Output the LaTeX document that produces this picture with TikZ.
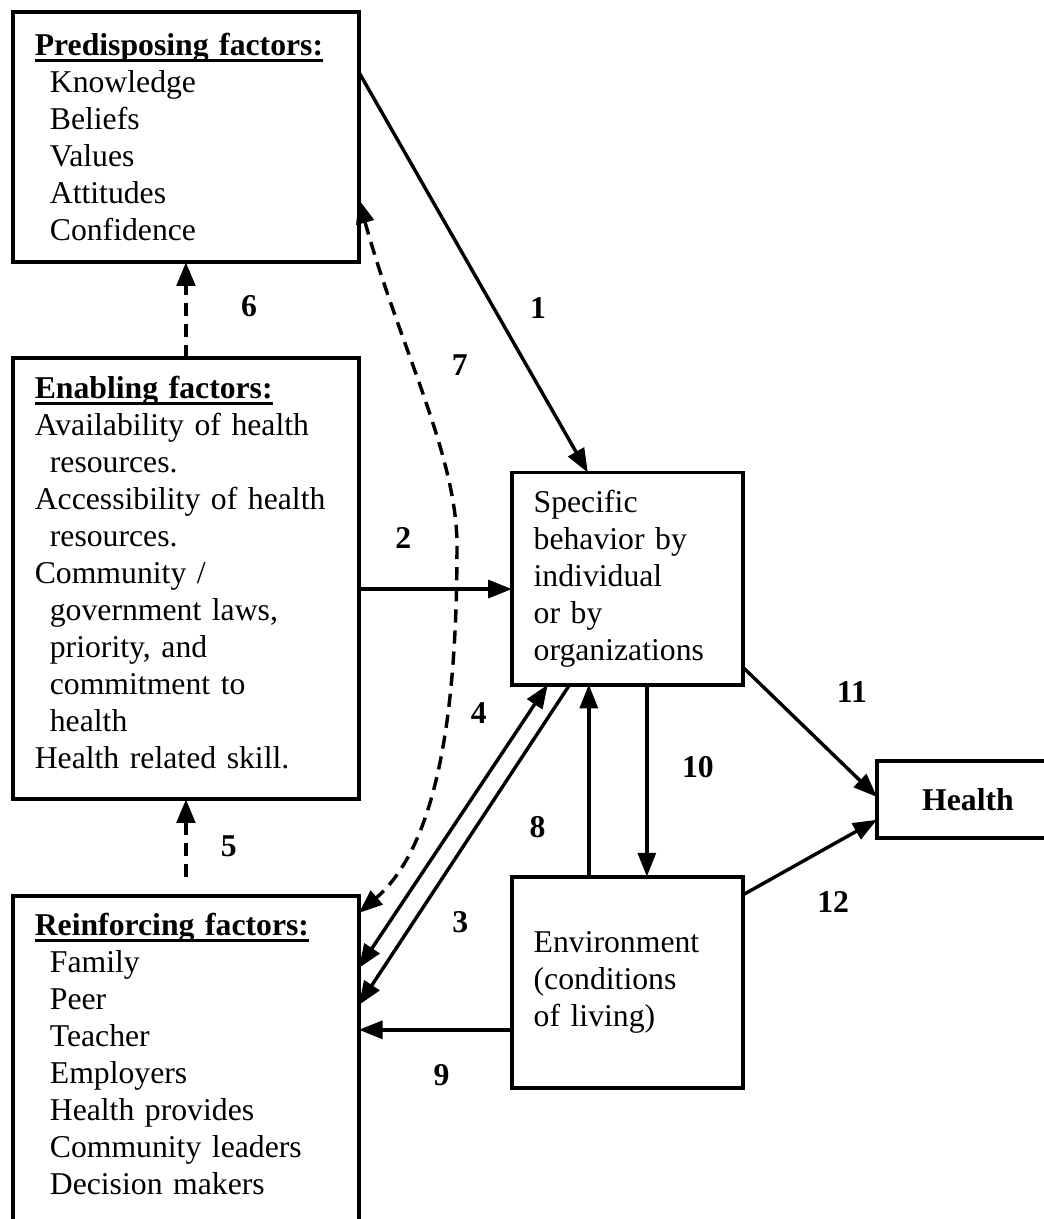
\documentclass[tikz,border=0pt]{standalone}
\usepackage{fontspec}
\setmainfont{Liberation Serif}
\usetikzlibrary{positioning}
\usetikzlibrary{arrows.meta}
\usetikzlibrary{calc}

\tikzset{
  factorbox/.style={draw, line width=1.5pt, outer sep=0pt, inner xsep=0.29cm,
    align=left, font=\fontsize{12}{14}\selectfont},
  arr/.style={->, line width=1.3pt},
  dasharr/.style={->, line width=1.8pt, dash pattern=on 5pt off 3pt},
  numlabel/.style={font=\fontsize{12}{14}\selectfont\bfseries, inner sep=0pt},
}
\newcommand*{\ind}{\hspace*{5.7pt}}
\newcommand*{\hdr}[1]{\sbox0{\textbf{#1}}\rlap{\rule[-2.6pt]{\wd0}{1.2pt}}\usebox0}

\begin{document}
\begin{tikzpicture}[>={Triangle[length=9pt,width=6.8pt]}]
\useasboundingbox (0,0) rectangle (13.885,-16.213);
\clip (0,0) rectangle (13.885,-16.213);

 % Predisposing factors
 \node[factorbox, anchor=north west,
    minimum width=4.6cm,
    minimum height=3.325cm,
    text width=4.02cm
 ] (pred) at (0.173,-0.160) {\hdr{Predisposing factors:}\\
    \ind Knowledge\\ \ind Beliefs\\ \ind Values\\ \ind Attitudes\\ \ind Confidence};

 % Enabling factors
 \node[factorbox,
    minimum width=4.6cm,
    minimum height=5.865cm,
    text width=4.02cm,
    below=1.277cm of pred
 ] (enab) {\hdr{Enabling factors:}\\
    Availability of health\\ \ind resources.\\
    Accessibility of health\\ \ind resources.\\
    Community /\\ \ind government laws,\\ \ind priority, and\\ \ind commitment to\\ \ind health\\
    Health related skill.\rule[-4.9pt]{0pt}{4.9pt}};

 % Reinforcing factors
 \node[factorbox,
    minimum width=4.6cm,
    text width=4.02cm,
    inner ysep=0.226cm,
    below=1.29cm of enab
 ] (reinf) {\hdr{Reinforcing factors:}\\
    \ind Family\\ \ind Peer\\ \ind Teacher\\ \ind Employers\\ \ind Health provides\\
    \ind Community leaders\\ \ind Decision makers\\ ~\\ ~};

 % Behaviour
 \node[factorbox,
    minimum width=3.07cm,
    minimum height=2.82cm,
    text width=2.49cm,
    right=2.035cm of enab
 ] (spec) {Specific\\ behavior by\\ individual\\ or by\\ organizations};

 % Environment
 \node[factorbox,
    minimum width=3.07cm,
    minimum height=2.806cm,
    text width=2.49cm,
    below=2.554cm of spec
 ] (env) {Environment\\ (conditions\\ of living)};

 % Health
 \node[factorbox, anchor=west,
    minimum width=2.42cm,
    minimum height=1.024cm,
    align=center,
    font=\fontsize{12}{14}\selectfont\bfseries
 ] (health) at (11.664,-10.633) {Health};

\draw[arr] ([yshift=-0.8cm]pred.north east) -- ([xshift=-0.525cm]spec.north)
    node[numlabel, pos=0.59, xshift=0.585cm]{1};
\draw[arr] ([yshift=-0.14cm]enab.east) -- ([yshift=-0.14cm]spec.west)
    node[numlabel, pos=0.29, yshift=0.68cm]{2};
\draw[arr] ([xshift=-0.765cm]spec.south) -- ([yshift=-1.45cm]reinf.north east)
    node[numlabel, pos=0.74, xshift=0.62cm]{3};
\draw[arr, <->] ([yshift=-0.958cm]reinf.north east) -- ([xshift=-1.057cm]spec.south)
    node[numlabel, pos=0.9, xshift=-0.665cm]{4};

\draw[dasharr] ([yshift=0.25cm]reinf.north) -- (enab.south)
    node[numlabel, pos=0.4, xshift=0.57cm]{5};
\draw[dasharr] (enab.north) -- (pred.south)
    node[numlabel, pos=0.54, xshift=0.84cm]{6};

% dashed curve between predisposing and reinforcing
\coordinate (c7) at (6.078,-7.249);
\draw[arr, <->, dash pattern=on 5pt off 3pt] ([yshift=0.83cm]pred.south east)
    .. controls +(0.532,-1.929) and +(0,1.197) .. (c7)
    node[numlabel, pos=0.45, xshift=0.57cm, yshift=0.14cm]{7}
    .. controls +(0,-1.995) and +(1.104,0.958) .. ([yshift=-0.226cm]reinf.north east);

\draw[arr] ([xshift=-0.512cm]env.north) -- ([xshift=-0.512cm]spec.south)
    node[numlabel, pos=0.26, xshift=-0.68cm]{8};
\draw[arr] ([yshift=-0.635cm]env.west) coordinate (e9) -- (e9 -| reinf.east)
    node[numlabel, pos=0.46, yshift=-0.6cm]{9};
\draw[arr] ([xshift=0.26cm]spec.south) -- ([xshift=0.26cm]env.north)
    node[numlabel, pos=0.43, xshift=0.68cm]{10};

\draw[arr] ([yshift=0.233cm]spec.south east) -- ([yshift=0.033cm]health.west)
    node[numlabel, pos=0.5, xshift=0.56cm, yshift=0.53cm]{11};
\draw[arr] ([yshift=-0.245cm]env.north east) -- ([yshift=-0.27cm]health.west)
    node[numlabel, pos=0.5, xshift=0.31cm, yshift=-0.6cm]{12};
\end{tikzpicture}
\end{document}
